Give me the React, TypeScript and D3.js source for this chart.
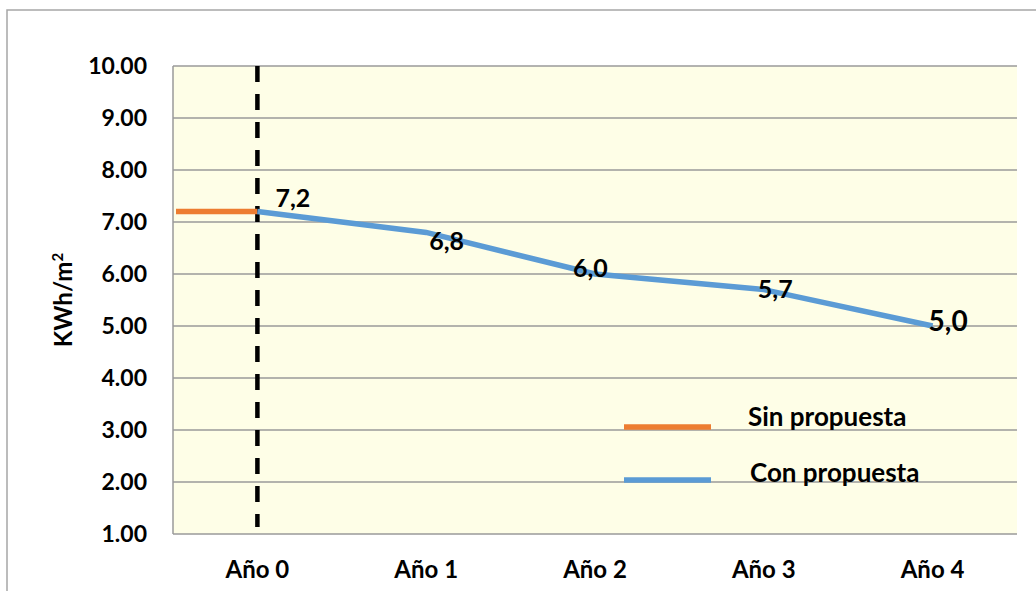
import React from "react";
import * as d3 from "d3";

// Energy intensity per year (kWh/m²)
const years = ["Año 0", "Año 1", "Año 2", "Año 3", "Año 4"];
const conPropuesta = [7.2, 6.8, 6.0, 5.7, 5.0];
const sinPropuesta = [7.2];
const valueLabels = ["7,2", "6,8", "6,0", "5,7", "5,0"];
const yTicks = [1, 2, 3, 4, 5, 6, 7, 8, 9, 10];
const legendItems = ["Sin propuesta", "Con propuesta"];

// label placement relative to each point
const labelOffsets: [number, number][] = [
  [18, -5],
  [3, 18],
  [-22, 3],
  [-6, 8],
  [-4, 5],
];
const labelSizes = [25, 25, 25, 25, 28];

const W = 1036;
const H = 591;
const plot = { left: 173, right: 1017, top: 66, bottom: 534 };

const FONT = "Lato, 'Open Sans', sans-serif";
const ORANGE = "#ED7D31";
const BLUE = "#5B9BD5";
const GRID = "#9a9a9a";

export default function App() {
  const x = d3
    .scaleBand<string>()
    .domain(years)
    .range([plot.left, plot.right]);
  const y = d3.scaleLinear().domain([1, 10]).range([plot.bottom, plot.top]);
  const cx = (i: number) => (x(years[i]) ?? 0) + x.bandwidth() / 2;

  const line = d3
    .line<number>()
    .x((_, i) => cx(i))
    .y((d) => y(d));

  const x0 = cx(0);

  return (
    <svg
      width={W}
      height={H}
      style={{ position: "absolute", left: 0, top: 0, background: "#fff" }}
      fontFamily={FONT}
      fontWeight="bold"
    >
      {/* chart frame */}
      <rect x={7} y={10} width={W + 10} height={H + 10} fill="#fff" stroke="#a6a6a6" strokeWidth={1.5} />

      {/* plot background */}
      <rect
        x={plot.left}
        y={plot.top}
        width={plot.right - plot.left}
        height={plot.bottom - plot.top}
        fill="#FEFEE7"
      />
      {yTicks.map((t) => (
        <line
          key={t}
          x1={plot.left}
          x2={plot.right}
          y1={y(t)}
          y2={y(t)}
          stroke={GRID}
          strokeWidth={1.5}
        />
      ))}
      <line x1={plot.left} x2={plot.left} y1={plot.top} y2={plot.bottom} stroke={GRID} strokeWidth={1.5} />

      {/* y tick labels */}
      {yTicks.map((t) => (
        <text key={t} x={147} y={y(t) + 8} textAnchor="end" fontSize={23} fill="#000">
          {t.toFixed(2)}
        </text>
      ))}
      <text
        transform={`translate(72, ${(plot.top + plot.bottom) / 2}) rotate(-90)`}
        textAnchor="middle"
        fontSize={24}
        fill="#000"
      >
        KWh/m<tspan dy={-9} fontSize={15}>2</tspan>
      </text>

      {/* x tick labels */}
      {years.map((yr, i) => (
        <text key={yr} x={cx(i)} y={578} textAnchor="middle" fontSize={24} fill="#000">
          {yr}
        </text>
      ))}

      {/* baseline year marker */}
      <line
        x1={x0}
        x2={x0}
        y1={plot.top}
        y2={527}
        stroke="#000"
        strokeWidth={4.5}
        strokeDasharray="16 12"
      />

      {/* without proposal */}
      <line
        x1={plot.left + 3}
        x2={x0}
        y1={y(sinPropuesta[0])}
        y2={y(sinPropuesta[0])}
        stroke={ORANGE}
        strokeWidth={5.5}
      />

      {/* with proposal */}
      <path d={line(conPropuesta) ?? ""} fill="none" stroke={BLUE} strokeWidth={5.5} />

      {conPropuesta.map((v, i) => (
        <text
          key={i}
          x={cx(i) + labelOffsets[i][0]}
          y={y(v) + labelOffsets[i][1]}
          fontSize={labelSizes[i]}
          fill="#000"
        >
          {valueLabels[i]}
        </text>
      ))}

      {/* legend */}
      {legendItems.map((name, i) => (
        <g key={name}>
          <line
            x1={624}
            x2={711}
            y1={427 + i * 53}
            y2={427 + i * 53}
            stroke={i === 0 ? ORANGE : BLUE}
            strokeWidth={5.5}
          />
          <text x={748 + i * 2} y={426 + i * 56} fontSize={26} fill="#000">
            {name}
          </text>
        </g>
      ))}
    </svg>
  );
}
